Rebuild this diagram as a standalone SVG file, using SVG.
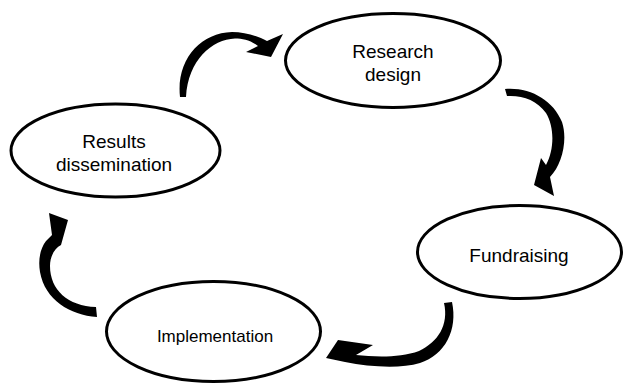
<svg xmlns="http://www.w3.org/2000/svg" width="626" height="385" viewBox="0 0 626 385">
<style>
.node ellipse{fill:#fff;stroke:#000;stroke-width:3}
.node text{font-family:"Liberation Sans",Arial,sans-serif;font-size:19px;fill:#000;text-anchor:middle}
.arr{fill:#000;stroke:none}
</style>
<rect width="626" height="385" fill="#fff"/>
<g id="connectors">
<path class="arr" d="M 180,97 C 176,60 200,33 232,32 C 245,32 258,36 267,41 L 283,34 L 271,57 L 246,52 L 258,46 C 250,40 243,38.5 235,38.5 C 212,39.5 188,60 186,97 Z"/>
<path class="arr" d="M 505,89 C 530,87 553,100 562,122 C 568,140 562,165 550,177 L 554,196 L 534,185 L 541,158 L 546,165 C 554,150 555,128 546,113 C 537,100 522,95 507,96 Z"/>
<path class="arr" d="M 444,303 L 452,302 C 458,330 445,355 420,363 C 400,369 370,367 345,362 L 326,358 L 338,340 L 373,345 L 356,355 C 375,357 400,358 419,351 C 438,342 449,325 444,303 Z"/>
<path class="arr" d="M 97,317 C 70,315 45,300 40,272 C 38,260 40,249 46,241 L 52,235 L 49,213 L 68,220 L 61,245 C 55,248 50,256 50,266 C 50,290 68,306 96,307 Z"/>
</g>
<g id="research-design" class="node">
<ellipse cx="393" cy="60.5" rx="107.5" ry="47"/>
<text x="393" y="58">Research</text>
<text x="393" y="81">design</text>
</g>
<g id="fundraising" class="node">
<ellipse cx="519.5" cy="252" rx="102" ry="46.5"/>
<text x="519" y="261.5">Fundraising</text>
</g>
<g id="implementation" class="node">
<ellipse cx="213.5" cy="331.5" rx="107" ry="50"/>
<text x="215" y="341.5" style="font-size:17px">Implementation</text>
</g>
<g id="results-dissemination" class="node">
<ellipse cx="115.5" cy="150.5" rx="104.5" ry="46.5"/>
<text x="114" y="148">Results</text>
<text x="114" y="171">dissemination</text>
</g>
</svg>
